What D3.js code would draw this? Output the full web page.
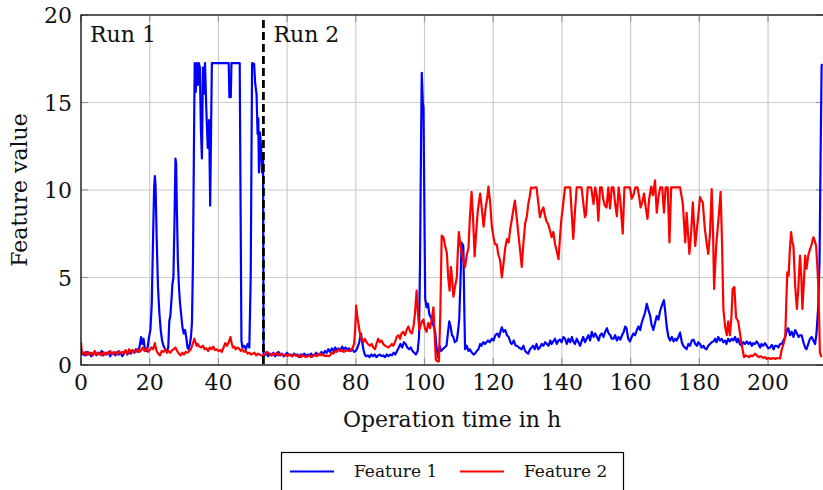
<!DOCTYPE html>
<html>
<head>
<meta charset="utf-8">
<script src="https://cdn.jsdelivr.net/npm/d3@7"></script>
<style>
  html, body { margin: 0; padding: 0; background: #fff; }
  svg { display: block; }
  text { font-family: "DejaVu Serif", serif; fill: #111; }
</style>
</head>
<body>
<div id="chart"></div>
<script>
// Feature values over operation time, two runs separated at ~53 h
const xTicks = [0, 20, 40, 60, 80, 100, 120, 140, 160, 180, 200];
const yTicks = [0, 5, 10, 15, 20];
const runSplit = 53.1;
const runLabels = ["Run 1", "Run 2"];
const seriesNames = ["Feature 1", "Feature 2"];

// [time in h, value]
const feature1 = [
  [0,0.9],[0.3,0.6],[0.7,0.7],[1,0.55],[1.5,0.75],[2,0.6],[2.5,0.7],[3,0.5],[3.5,0.65],[4,0.75],[4.5,0.55],[5,0.7],
  [5.5,0.6],[6,0.8],[6.5,0.55],[7,0.7],[7.5,0.6],[8,0.75],[8.5,0.5],[9,0.65],[9.5,0.7],[10,0.55],[10.5,0.75],[11,0.6],
  [11.5,0.7],[12,0.5],[12.5,0.65],[13,0.8],[13.5,0.6],[14,0.75],[14.5,0.65],[15,0.85],[15.5,0.7],[16,0.9],[16.5,0.75],
  [17,1.0],[17.5,1.6],[17.8,1.2],[18.2,1.5],[18.6,0.9],[19,0.8],[19.4,1.0],[19.8,1.6],[20.2,2.0],[20.6,3.5],[21,7.5],
  [21.3,10.2],[21.5,10.8],[21.7,10.3],[22,7.5],[22.4,4.5],[22.8,3.0],[23.2,2.0],[23.6,1.4],[24,1.1],[24.5,0.9],[25,0.8],
  [25.4,1.0],[25.7,2.5],[26,2.8],[26.3,3.6],[26.6,4.6],[26.9,5.0],[27.2,8.0],[27.5,11.8],[27.7,11.5],[27.9,9.0],[28.2,6.0],
  [28.5,4.5],[28.8,3.6],[29.1,3.0],[29.5,2.2],[29.9,1.8],[30.3,2.0],[30.7,1.5],[31,1.0],[31.3,0.9],[31.7,1.2],[32,1.6],
  [32.3,2.4],[32.6,6.0],[32.9,13.0],[33.1,17.25],[33.4,15.6],[33.7,17.25],[34.0,16.0],[34.3,17.25],[34.6,17.0],[34.9,13.5],
  [35.2,11.8],[35.5,17.0],[35.8,15.5],[36.1,17.25],[36.5,14.5],[36.9,12.4],[37.3,14.0],[37.6,9.1],[37.9,14.0],[38.1,17.25],
  [43.0,17.25],[43.2,15.3],[43.6,15.3],[43.8,17.25],[46.2,17.25],[46.7,1.4],[47.0,1.0],[47.5,1.1],[48.0,0.9],[48.5,1.2],
  [49.0,1.0],[49.4,5.0],[49.8,17.25],[50.4,17.2],[50.7,16.1],[51.1,15.5],[51.4,13.2],[51.6,14.1],[51.8,11.0],[52.1,13.3],
  [52.4,12.5],[52.7,11.0],[53.0,12.0],[53.15,0.6],[53.5,0.55],[54,0.7],[54.5,0.5],[55,0.65],[55.5,0.55],[56,0.7],[56.5,0.5],
  [57,0.6],[57.5,0.75],[58,0.55],[58.5,0.65],[59,0.5],[59.5,0.6],[60,0.7],[60.5,0.55],[61,0.6],[61.5,0.5],[62,0.65],
  [62.5,0.55],[63,0.6],[63.5,0.45],[64,0.6],[64.5,0.55],[65,0.65],[65.5,0.5],[66,0.6],[66.5,0.55],[67,0.65],[67.5,0.5],
  [68,0.6],[68.5,0.7],[69,0.55],[69.5,0.6],[70,0.75],[70.5,0.6],[71,0.8],[71.5,0.7],[72,0.9],[72.5,0.75],[73,0.95],
  [73.5,0.8],[74,1.0],[74.5,0.85],[75,0.95],[75.5,0.8],[76,1.05],[76.5,0.9],[77,1.0],[77.5,0.85],[78,0.95],[78.5,0.8],
  [79,0.9],[79.5,0.75],[80,0.8],[80.5,1.0],[81,1.3],[81.5,1.8],[81.8,1.4],[82.2,0.9],[82.6,0.6],[83,0.5],[83.5,0.55],
  [84,0.45],[84.5,0.6],[85,0.5],[85.5,0.6],[86,0.45],[86.5,0.55],[87,0.6],[87.5,0.5],[88,0.55],[88.5,0.45],[89,0.6],
  [89.5,0.5],[90,0.6],[90.5,0.55],[91,0.7],[91.5,0.6],[92,0.8],[92.5,1.0],[93,1.2],[93.5,1.0],[94,1.3],[94.5,1.2],
  [95,1.0],[95.5,0.9],[96,1.0],[96.5,0.8],[97,0.7],[97.5,0.6],[98,0.8],[98.4,1.6],[98.7,6.0],[99.0,13.0],[99.2,16.7],
  [99.5,15.0],[99.7,14.7],[100.0,8.0],[100.2,3.8],[100.6,3.3],[101.0,3.5],[101.4,2.9],[101.9,2.7],[102.4,2.4],[103.1,1.9],
  [103.5,1.0],[104.0,0.4],[104.4,1.1],[104.8,0.8],[105.3,0.9],[105.8,1.0],[106.4,1.1],[106.8,1.8],[107.2,2.5],[107.6,2.2],
  [108.0,1.7],[108.4,1.6],[108.8,1.3],[109.4,1.4],[109.8,2.0],[110.1,2.6],[110.5,5.0],[110.8,7.0],[111.3,6.8],[111.6,3.0],
  [111.8,0.9],[112.3,1.1],[112.8,0.8],[113.2,0.9],[113.8,0.7],[114.3,0.6],[114.7,0.65],[115.2,0.8],[115.7,0.9],[116.2,1.2],
  [116.6,1.1],[117.1,1.3],[117.6,1.2],[118,1.3],[118.5,1.4],[119,1.3],[119.6,1.5],[120.1,1.4],[120.6,1.7],[121.2,1.8],
  [121.7,1.6],[122.1,1.9],[122.5,2.15],[123,1.9],[123.5,2.0],[124,1.7],[124.5,1.6],[125,1.3],[125.4,1.2],[126,1.4],
  [126.5,1.1],[126.9,1.1],[127.5,1.0],[128.3,0.9],[128.8,1.1],[129.3,0.8],[129.8,0.7],[130.2,0.65],[130.7,0.9],[131.2,1.0],
  [131.6,1.1],[132.1,0.9],[132.6,1.2],[133.1,0.9],[133.6,1.0],[134.1,1.2],[134.6,1.1],[135.1,1.3],[135.6,1.2],[136.1,1.1],
  [136.6,1.4],[137,1.2],[137.5,1.35],[138,1.5],[138.5,1.2],[139,1.4],[139.4,1.45],[139.9,1.3],[140.4,1.6],[140.9,1.5],
  [141.4,1.2],[141.9,1.5],[142.4,1.3],[142.9,1.6],[143.3,1.35],[143.8,1.2],[144.3,1.5],[144.8,1.3],[145.3,1.1],[145.8,1.4],
  [146.2,1.6],[146.7,1.3],[147.2,1.5],[147.7,1.7],[148.2,1.4],[148.7,1.9],[149.2,1.6],[149.7,1.8],[150.2,1.6],[150.7,1.4],
  [151.1,1.7],[151.6,1.8],[152.1,1.6],[152.6,1.9],[153.1,2.1],[153.6,1.8],[154.1,1.7],[154.5,1.5],[155,1.5],[155.5,1.7],
  [156,1.4],[156.5,1.6],[157,1.45],[157.5,1.7],[158,1.9],[158.4,2.2],[158.8,2.1],[159.3,1.5],[159.8,1.35],[160.3,1.6],
  [160.8,1.8],[161.3,1.7],[161.8,2.0],[162.3,2.2],[162.8,2.0],[163.2,2.4],[163.7,2.7],[164.2,3.0],[164.7,3.5],[165.1,3.2],
  [165.7,2.8],[166.1,2.3],[166.6,2.0],[167.1,2.4],[167.6,2.8],[168.1,2.6],[168.6,3.1],[169.1,3.4],[169.7,3.7],[170.1,3.0],
  [170.5,2.2],[171.0,1.6],[171.5,1.4],[172,1.6],[172.5,1.35],[173,1.5],[173.4,1.4],[173.9,1.6],[174.4,1.85],[174.9,1.3],
  [175.3,1.1],[175.8,1.0],[176.3,0.9],[176.8,1.2],[177.3,1.1],[177.8,1.4],[178.3,1.45],[178.8,1.2],[179.3,1.1],[179.7,1.3],
  [180.2,1.2],[180.7,1.0],[181.2,1.1],[181.6,0.95],[182.1,0.9],[182.6,1.1],[183.1,1.2],[183.6,1.3],[184.1,1.35],[184.6,1.5],
  [185.0,1.3],[185.5,1.6],[186,1.4],[186.5,1.5],[187,1.3],[187.5,1.4],[187.9,1.2],[188.4,1.5],[188.9,1.35],[189.4,1.5],
  [189.9,1.4],[190.4,1.6],[190.9,1.3],[191.3,1.5],[191.8,1.2],[192.3,1.1],[192.8,1.3],[193.3,1.2],[193.8,1.35],[194.3,1.2],
  [194.8,1.3],[195.3,1.1],[195.7,1.25],[196.2,1.2],[196.7,1.35],[197.2,1.2],[197.7,1.0],[198.1,1.2],[198.6,1.1],[199.1,1.25],
  [199.6,1.1],[200.1,0.95],[200.6,1.0],[201.1,1.15],[201.6,0.9],[202.0,1.1],[202.5,1.1],[203.0,1.0],[203.5,1.2],[204,1.2],
  [204.5,1.4],[205,1.6],[205.5,2.0],[205.9,2.1],[206.4,1.7],[206.9,1.9],[207.4,1.6],[207.9,2.0],[208.4,1.8],[208.9,1.6],
  [209.3,1.7],[209.8,1.7],[210.3,1.3],[210.8,1.0],[211.2,0.9],[211.7,1.2],[212.2,1.5],[212.7,1.6],[213.2,1.4],[213.7,1.2],
  [214.1,1.8],[214.6,3.3],[215.0,6.0],[215.3,12.0],[215.6,17.1],[215.8,17.2]
];

const feature2 = [
  [0,1.3],[0.2,0.8],[0.5,0.65],[1,0.7],[1.5,0.55],[2,0.75],[2.5,0.6],[3,0.7],[3.5,0.55],[4,0.8],[4.5,0.6],[5,0.7],
  [5.5,0.65],[6,0.55],[6.5,0.75],[7,0.6],[7.5,0.7],[8,0.65],[8.5,0.8],[9,0.6],[9.5,0.75],[10,0.7],[10.5,0.6],[11,0.8],
  [11.5,0.65],[12,0.75],[12.5,0.7],[13,0.85],[13.5,0.6],[14,0.9],[14.5,0.75],[15,0.85],[15.5,0.7],[16,0.8],[16.5,0.9],
  [17,0.75],[17.5,0.85],[18,1.0],[18.5,0.8],[19,0.95],[19.5,0.75],[20,0.85],[20.5,1.0],[21,0.9],[21.5,1.25],[22,0.8],
  [22.5,0.65],[23,0.55],[23.5,0.8],[24,0.75],[24.5,0.9],[25,0.7],[25.5,0.8],[26,0.7],[26.5,0.85],[27,0.9],[27.5,1.0],
  [28,0.8],[28.5,0.65],[29,0.55],[29.5,0.7],[30,0.6],[30.5,0.75],[31,0.7],[31.5,0.8],[32,0.9],[32.5,1.2],[33,1.5],
  [33.3,1.3],[33.7,1.1],[34,1.2],[34.5,1.05],[35,1.0],[35.5,1.1],[36,0.9],[36.5,0.95],[37,0.8],[37.5,1.0],[38,0.9],
  [38.5,1.05],[39,0.85],[39.5,0.9],[40,0.8],[40.5,0.85],[41,0.75],[41.5,1.0],[42,1.25],[42.5,1.1],[43,1.3],[43.5,1.6],
  [43.8,1.3],[44.2,1.0],[44.6,1.05],[45,0.9],[45.5,1.0],[46,0.95],[46.5,0.8],[47,0.9],[47.5,0.75],[48,0.8],[48.5,0.65],
  [49,0.7],[49.5,0.6],[50,0.65],[50.5,0.7],[51,0.55],[51.5,0.65],[52,0.6],[52.5,0.55],[53,0.5],[53.5,0.6],[54,0.75],
  [54.5,0.7],[55,0.6],[55.5,0.55],[56,0.65],[56.5,0.6],[57,0.7],[57.5,0.55],[58,0.65],[58.5,0.6],[59,0.55],[59.5,0.6],
  [60,0.5],[60.5,0.6],[61,0.55],[61.5,0.5],[62,0.6],[62.5,0.55],[63,0.5],[63.5,0.55],[64,0.45],[64.5,0.55],[65,0.5],
  [65.5,0.45],[66,0.5],[66.5,0.55],[67,0.45],[67.5,0.5],[68,0.6],[68.5,0.5],[69,0.55],[69.5,0.65],[70,0.55],[70.5,0.6],
  [71,0.5],[71.5,0.55],[72,0.5],[72.5,0.55],[73,0.7],[73.5,0.65],[74,0.8],[74.5,0.75],[75,0.9],[75.5,0.8],[76,0.85],
  [76.5,0.75],[77,0.8],[77.5,0.85],[78,0.8],[78.5,0.85],[79,0.95],[79.5,1.2],[79.8,2.0],[80.1,3.4],[80.4,2.8],[80.8,2.3],
  [81.2,1.8],[81.7,1.45],[82.2,1.3],[82.6,1.5],[83,1.35],[83.5,1.2],[84.1,1.1],[84.6,1.2],[85.1,1.0],[85.6,0.9],[86,1.2],
  [86.5,1.5],[87,1.3],[87.5,1.4],[88,1.2],[88.5,1.1],[89,1.05],[89.5,1.0],[90,1.1],[90.5,1.2],[90.9,1.1],[91.4,1.3],
  [91.9,1.6],[92.4,1.7],[92.9,1.5],[93.3,1.8],[93.8,1.9],[94.3,1.7],[94.8,2.0],[95.3,2.2],[95.8,1.9],[96.3,1.8],[96.8,2.2],
  [97.2,2.9],[97.7,4.25],[98.1,2.9],[98.5,2.0],[98.9,2.3],[99.3,2.5],[99.7,2.6],[100.1,2.1],[100.6,1.9],[101.1,2.4],
  [101.6,2.1],[102.1,2.6],[102.6,3.3],[103.0,1.5],[103.3,0.3],[103.8,0.2],[104.2,0.2],[104.6,3.0],[105.0,7.4],[105.5,7.3],
  [106.0,6.8],[106.5,6.4],[106.9,5.0],[107.3,4.25],[107.7,5.6],[108.0,5.0],[108.4,3.9],[108.9,4.5],[109.4,5.0],[109.7,6.5],
  [110.0,7.6],[110.4,6.9],[110.8,6.5],[111.3,6.0],[111.8,5.6],[112.3,6.3],[112.8,6.7],[113.2,8.4],[113.7,9.9],[114.1,8.5],
  [114.6,6.2],[115.0,7.5],[115.5,8.8],[116.2,9.8],[116.7,8.9],[117.2,7.9],[117.8,9.0],[118.3,9.6],[118.6,10.2],[119.1,9.3],
  [119.6,7.9],[120.1,7.3],[120.5,6.9],[121.0,6.9],[121.5,6.3],[122.0,6.0],[122.5,5.0],[123.0,5.8],[123.5,6.7],[124.0,7.2],
  [124.5,7.0],[124.9,7.7],[125.4,8.3],[125.8,8.8],[126.3,9.4],[126.8,8.5],[127.3,7.5],[127.8,6.6],[128.3,5.6],[128.8,7.0],
  [129.3,8.1],[129.8,8.5],[130.2,9.2],[130.6,9.6],[131.0,10.15],[131.5,10.1],[132.0,10.15],[132.6,10.15],[133.1,9.3],
  [133.6,8.45],[134.1,8.8],[134.6,9.0],[135.0,8.6],[135.5,8.2],[136.0,8.05],[136.5,7.7],[137.0,7.3],[137.5,7.6],[138.0,6.9],
  [138.5,6.5],[139.0,6.05],[139.4,7.2],[139.8,8.25],[140.3,9.1],[140.9,10.15],[141.5,10.15],[142.4,10.15],[142.9,8.5],
  [143.3,7.2],[143.8,8.8],[144.3,10.15],[145.0,10.15],[145.7,10.15],[146.2,9.3],[146.7,8.45],[147.0,8.6],[147.5,10.15],
  [148.5,10.15],[149.2,9.2],[149.7,10.15],[150.2,9.6],[150.6,8.25],[151.1,10.15],[151.6,10.15],[152.0,9.5],[152.5,9.1],
  [153.0,9.0],[153.5,10.15],[154.0,8.95],[154.5,10.15],[155.0,10.15],[155.5,9.2],[156.0,8.5],[156.5,10.15],[157.0,9.4],
  [157.7,7.5],[158.2,10.15],[159.0,10.15],[159.8,10.15],[160.3,9.5],[160.8,9.7],[161.4,10.15],[162.0,10.15],[162.5,9.6],
  [162.9,9.0],[163.4,9.3],[163.9,9.8],[164.4,9.0],[164.9,8.35],[165.4,9.5],[166.0,10.2],[166.5,9.7],[167.1,10.55],[167.6,8.7],
  [168.1,9.6],[168.6,10.15],[169.2,10.15],[169.7,8.7],[170.2,10.15],[170.8,10.15],[171.3,7.0],[171.8,10.15],[172.5,10.15],
  [173.5,10.15],[174.4,10.15],[175.2,9.2],[175.9,7.0],[176.3,8.7],[177.1,6.35],[177.6,7.5],[178.1,9.3],[178.8,6.8],
  [179.2,7.6],[179.7,8.55],[180.2,9.6],[180.6,9.4],[181.0,9.3],[181.6,7.8],[182.1,7.0],[182.6,6.35],[183.1,7.5],[183.6,10.05],
  [184.0,7.5],[184.3,4.35],[184.9,6.8],[185.6,8.4],[186.2,9.9],[186.6,7.0],[187.0,3.2],[187.5,2.2],[188.0,1.7],[188.4,2.5],
  [188.9,1.7],[189.3,2.6],[189.7,4.35],[190.2,4.45],[190.7,2.7],[191.3,2.5],[191.8,1.85],[192.3,1.2],[193.0,0.45],[193.5,0.55],
  [194.0,0.5],[194.5,0.45],[195.0,0.55],[195.5,0.5],[196.2,0.65],[196.7,0.55],[197.3,0.45],[198.0,0.5],[198.6,0.4],
  [199.1,0.45],[199.6,0.35],[200.2,0.4],[200.8,0.35],[201.5,0.4],[202.1,0.35],[202.8,0.4],[203.5,0.37],[204.0,0.9],
  [204.5,1.2],[205.0,1.6],[205.3,3.5],[205.6,5.3],[206.0,5.1],[206.3,6.4],[206.7,7.6],[207.0,7.1],[207.4,6.8],[207.9,4.5],
  [208.4,3.2],[208.8,4.35],[209.3,6.25],[209.7,5.0],[210.0,3.2],[210.4,4.6],[210.8,6.25],[211.2,5.5],[211.7,6.25],
  [212.2,6.6],[212.7,6.9],[213.2,7.3],[213.6,7.1],[214.0,6.8],[214.3,5.8],[214.6,4.7],[214.9,2.5],[215.1,0.7],[215.6,0.45]
];

const width = 823, height = 490;
const margin = { top: 15, right: 0, bottom: 125, left: 81 };
const colors = ["#0000ff", "#ff0000"];

const svg = d3.select("#chart")
  .append("svg")
  .attr("width", width)
  .attr("height", height);

const x = d3.scaleLinear()
  .domain([0, 216])
  .range([margin.left, 823]);

const y = d3.scaleLinear()
  .domain([0, 20])
  .range([height - margin.bottom, margin.top]);

const x0 = margin.left, x1 = width, y0 = y(0), y1 = y(20);

// grid
svg.append("g")
  .selectAll("line.vg")
  .data(xTicks)
  .join("line")
  .attr("x1", d => x(d)).attr("x2", d => x(d))
  .attr("y1", y1).attr("y2", y0)
  .attr("stroke", "#cccccc").attr("stroke-width", 1.2);

svg.append("g")
  .selectAll("line.hg")
  .data(yTicks)
  .join("line")
  .attr("x1", x0).attr("x2", x1)
  .attr("y1", d => y(d)).attr("y2", d => y(d))
  .attr("stroke", "#cccccc").attr("stroke-width", 1.2);

// inward ticks on all four sides
const tickLen = 7;
const tickG = svg.append("g").attr("stroke", "#999").attr("stroke-width", 1.2);
xTicks.forEach(t => {
  tickG.append("line").attr("x1", x(t)).attr("x2", x(t)).attr("y1", y0).attr("y2", y0 - tickLen);
  tickG.append("line").attr("x1", x(t)).attr("x2", x(t)).attr("y1", y1).attr("y2", y1 + tickLen);
});
yTicks.forEach(t => {
  tickG.append("line").attr("x1", x0).attr("x2", x0 + tickLen).attr("y1", y(t)).attr("y2", y(t));
  tickG.append("line").attr("x1", x1).attr("x2", x1 - tickLen).attr("y1", y(t)).attr("y2", y(t));
});

// data lines
const line = d3.line().x(d => x(d[0])).y(d => y(d[1]));

svg.append("defs").append("clipPath").attr("id", "clip")
  .append("rect").attr("x", x0).attr("y", y1).attr("width", x1 - x0).attr("height", y0 - y1);

const plot = svg.append("g").attr("clip-path", "url(#clip)");

plot.append("path")
  .datum(feature1)
  .attr("d", line)
  .attr("fill", "none")
  .attr("stroke", colors[0])
  .attr("stroke-width", 2.2)
  .attr("stroke-linejoin", "round");

plot.append("path")
  .datum(feature2)
  .attr("d", line)
  .attr("fill", "none")
  .attr("stroke", colors[1])
  .attr("stroke-width", 2.2)
  .attr("stroke-linejoin", "round");

// run separator
svg.append("line")
  .attr("x1", x(runSplit)).attr("x2", x(runSplit))
  .attr("y1", y1 + 5).attr("y2", y0)
  .attr("stroke", "#000")
  .attr("stroke-width", 2.8)
  .attr("stroke-dasharray", "8,4");

svg.append("text").attr("x", 90).attr("y", 42).attr("font-size", "22px").text(runLabels[0]);
svg.append("text").attr("x", x(runSplit) + 10).attr("y", 42).attr("font-size", "22px").text(runLabels[1]);

// frame
svg.append("rect")
  .attr("x", x0).attr("y", y1)
  .attr("width", x1 - x0 + 2).attr("height", y0 - y1)
  .attr("fill", "none").attr("stroke", "#000").attr("stroke-width", 1.2);

// tick labels
svg.append("g")
  .selectAll("text")
  .data(xTicks)
  .join("text")
  .attr("x", d => x(d))
  .attr("y", y0 + 25)
  .attr("text-anchor", "middle")
  .attr("font-size", "22px")
  .text(d => d);

svg.append("g")
  .selectAll("text")
  .data(yTicks)
  .join("text")
  .attr("x", x0 - 9)
  .attr("y", d => y(d) + 8)
  .attr("text-anchor", "end")
  .attr("font-size", "22px")
  .text(d => d);

// axis labels
svg.append("text")
  .attr("x", 452).attr("y", 427)
  .attr("text-anchor", "middle")
  .attr("font-size", "22px")
  .text("Operation time in h");

svg.append("text")
  .attr("transform", "rotate(-90)")
  .attr("x", -(y0 + y1) / 2).attr("y", 27)
  .attr("text-anchor", "middle")
  .attr("font-size", "22px")
  .text("Feature value");

// legend
const legend = svg.append("g");
legend.append("rect")
  .attr("x", 281.5).attr("y", 452.5)
  .attr("width", 342).attr("height", 60)
  .attr("fill", "#fff").attr("stroke", "#000").attr("stroke-width", 1.2);

const legendX = [290, 460];
seriesNames.forEach((name, i) => {
  legend.append("line")
    .attr("x1", legendX[i]).attr("x2", legendX[i] + 44)
    .attr("y1", 471.5).attr("y2", 471.5)
    .attr("stroke", colors[i]).attr("stroke-width", 2);
  legend.append("text")
    .attr("x", legendX[i] + 64).attr("y", 477)
    .attr("font-size", "17px")
    .text(name);
});
</script>
</body>
</html>
